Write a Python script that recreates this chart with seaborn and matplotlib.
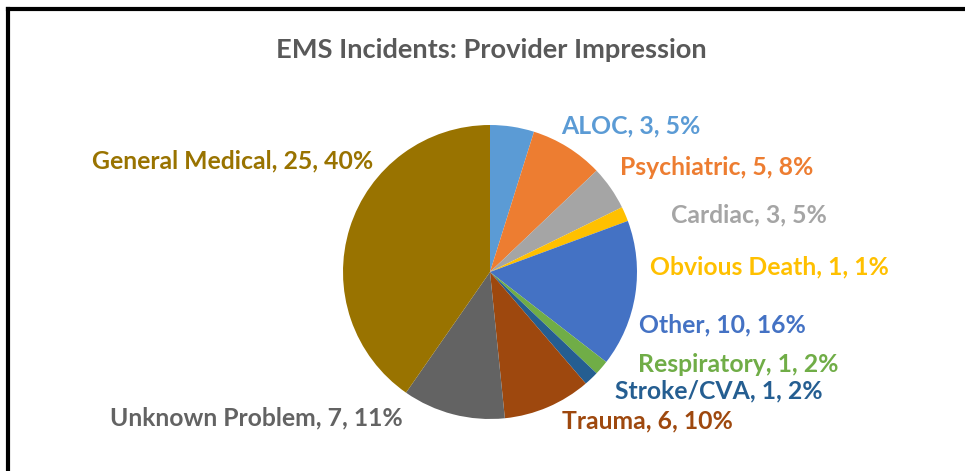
import matplotlib
matplotlib.use("Agg")
import matplotlib.pyplot as plt
from matplotlib.lines import Line2D
import seaborn as sns

# DATA
categories = ["ALOC", "Psychiatric", "Cardiac", "Obvious Death", "Other",
              "Respiratory", "Stroke/CVA", "Trauma", "Unknown Problem", "General Medical"]
counts = [3, 5, 3, 1, 10, 1, 1, 6, 7, 25]
percent_labels = ["5%", "8%", "5%", "1%", "16%", "2%", "2%", "10%", "11%", "40%"]
colors = ["#5B9BD5", "#ED7D31", "#A5A5A5", "#FFC000", "#4472C4",
          "#70AD47", "#255E91", "#9E480E", "#636363", "#997300"]

# label anchor (left edge x, centre y) in pixels from top-left of the figure
label_pos = [(561, 126), (620, 168), (671, 215), (650, 267), (639, 325),
             (638, 364), (615, 391), (562, 421), (110, 418), (92, 161)]

W, H = 965, 471
sns.set_theme(style="white")
plt.rcParams["font.family"] = ["Lato", "DejaVu Sans"]

fig = plt.figure(figsize=(W / 100, H / 100), dpi=100)
cx, cy, r = 490, 272, 147
ax = fig.add_axes([(cx - r) / W, (H - cy - r) / H, 2 * r / W, 2 * r / H])
palette = sns.color_palette(colors)
ax.pie(counts, colors=palette, startangle=90, counterclock=False,
       wedgeprops=dict(linewidth=0))
ax.set_xlim(-1, 1)
ax.set_ylim(-1, 1)
ax.set_aspect("equal")
ax.axis("off")

for cat, n, pct, col, (x, y) in zip(categories, counts, percent_labels, colors, label_pos):
    fig.text(x / W, 1 - y / H, f"{cat}, {n}, {pct}", color=col, fontsize=17.8,
             fontweight="bold", ha="left", va="center")

fig.text(491 / W, 1 - 50 / H, "EMS Incidents: Provider Impression", color="#595959",
         fontsize=19.6, fontweight="bold", ha="center", va="center")

# frame (left and top edges visible in the crop)
fig.add_artist(Line2D([8 / W, 8 / W], [0, 1 - 9 / H], color="black", linewidth=3,
                      transform=fig.transFigure, solid_capstyle="projecting"))
fig.add_artist(Line2D([8 / W, 1], [1 - 9 / H, 1 - 9 / H], color="black", linewidth=3,
                      transform=fig.transFigure, solid_capstyle="projecting"))

fig.savefig("out.png", dpi=100, facecolor="white")
